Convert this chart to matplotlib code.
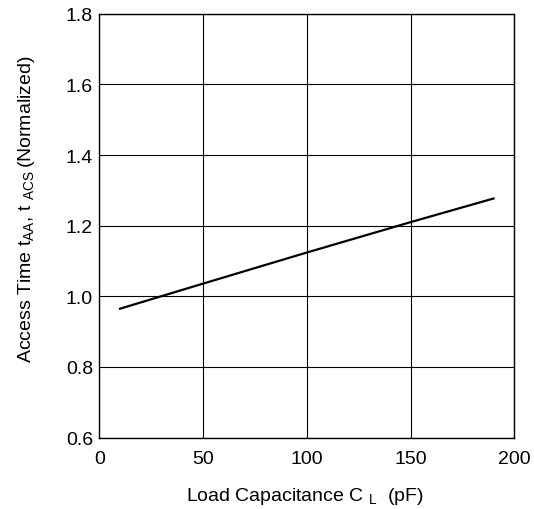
import matplotlib
matplotlib.use("Agg")
import matplotlib.pyplot as plt

plt.rcParams['font.family'] = ['Liberation Sans', 'DejaVu Sans']
plt.rcParams['mathtext.fontset'] = 'custom'
plt.rcParams['mathtext.rm'] = 'Liberation Sans'

# load capacitance (pF) vs normalized access time
cap_pf = [10, 50, 100, 150, 190]
access_norm = [0.965, 1.036, 1.124, 1.21, 1.277]

x_ticks = [0, 50, 100, 150, 200]
y_ticks = [0.6, 0.8, 1.0, 1.2, 1.4, 1.6, 1.8]

fig = plt.figure(figsize=(5.34, 5.10), dpi=100)
ax = fig.add_axes([0.186, 0.140, 0.777, 0.831])

ax.plot(cap_pf, access_norm, color='black', lw=1.6, zorder=3)

ax.set_xlim(0, 200)
ax.set_ylim(0.6, 1.8)
ax.set_xticks(x_ticks)
ax.set_yticks(y_ticks)
ax.set_yticklabels([f'{v:.1f}' for v in y_ticks])
ax.grid(True, color='black', lw=0.8)
ax.tick_params(length=0, labelsize=14)
ax.tick_params(axis='x', pad=9)
ax.tick_params(axis='y', pad=4.5)
for s in ax.spines.values():
    s.set_linewidth(1.0)

ax.set_xlabel(r'Load Capacitance C $_{\mathrm{L}}$  (pF)', fontsize=14)
ax.set_ylabel(r'Access Time t$_{\mathrm{AA}}$, t $_{\mathrm{ACS}}$$\,$(Normalized)',
              fontsize=14)
ax.xaxis.set_label_coords(0.496, -0.112)
ax.yaxis.set_label_coords(-0.151, 0.541)

fig.savefig('out.png', dpi=100)
